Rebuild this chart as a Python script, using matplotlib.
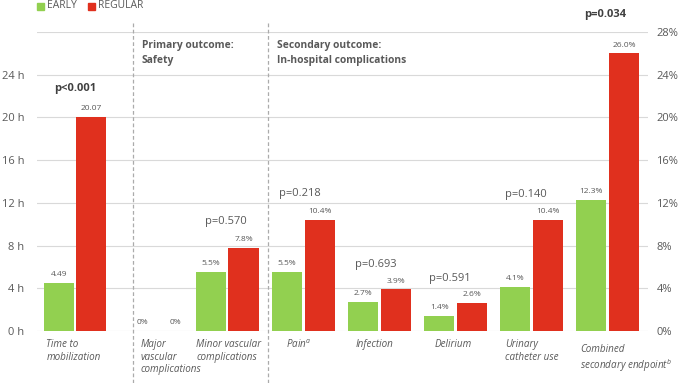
import matplotlib
matplotlib.use("Agg")
import matplotlib.pyplot as plt
import matplotlib.transforms as mtransforms
import numpy as np

plt.rcParams['font.family'] = ['Open Sans', 'DejaVu Sans']

categories = ["Time to\nmobilization", "Major\nvascular\ncomplications",
              "Minor vascular\ncomplications", "Pain$^{\\mathregular{a}}$", "Infection",
              "Delirium", "Urinary\ncatheter use", "Combined\nsecondary endpoint$^{\\mathregular{b}}$"]
early = [4.49, 0.0, 5.5, 5.5, 2.7, 1.4, 4.1, 12.3]
regular = [20.07, 0.0, 7.8, 10.4, 3.9, 2.6, 10.4, 26.0]
early_labels = ["4.49", "0%", "5.5%", "5.5%", "2.7%", "1.4%", "4.1%", "12.3%"]
regular_labels = ["20.07", "0%", "7.8%", "10.4%", "3.9%", "2.6%", "10.4%", "26.0%"]
pvalues = ["p<0.001", "", "p=0.570", "p=0.218", "p=0.693", "p=0.591", "p=0.140", "p=0.034"]
p_bold = [True, False, False, False, False, False, False, True]
left_ticks = [0, 4, 8, 12, 16, 20, 24]
left_tick_labels = ["0 h", "4 h", "8 h", "12 h", "16 h", "20 h", "24 h"]
right_ticks = [0, 4, 8, 12, 16, 20, 24, 28]
right_tick_labels = ["0%", "4%", "8%", "12%", "16%", "20%", "24%", "28%"]

GREEN = "#92D050"
RED = "#E0301E"
GRAY = "#595959"

fig = plt.figure(figsize=(6.85, 3.83), dpi=100)
ax = fig.add_axes([37/685, 1-331/383, (648-37)/685, (331-32)/383])
x = np.arange(len(categories))
w = 0.395
off = 0.214
ax.bar(x - off, early, w, color=GREEN, zorder=3)
ax.bar(x + off, regular, w, color=RED, zorder=3)
ax.set_xlim(-0.5, 7.53)
ax.set_ylim(0, 28)
ax.set_yticks(left_ticks)
ax.set_yticklabels(left_tick_labels, color=GRAY, fontsize=8)
for t in right_ticks:
    ax.axhline(t, color="#D9D9D9", lw=0.8, zorder=1)
for s in ax.spines.values():
    s.set_visible(False)
ax.tick_params(axis='y', length=0, pad=9)
ax.set_xticks([])

ax2 = ax.twinx()
ax2.set_ylim(0, 28)
ax2.set_yticks(right_ticks)
ax2.set_yticklabels(right_tick_labels, color=GRAY, fontsize=8)
ax2.tick_params(axis='y', length=0, pad=6)
for s in ax2.spines.values():
    s.set_visible(False)

# value labels (labels of zero-height bars sit slightly right, as in the source)
for i in range(len(categories)):
    zdx = 0.1 if early[i] == 0 else 0.0
    ax.text(x[i] - off + zdx, early[i] + 0.45, early_labels[i], ha='center', va='bottom',
            fontsize=6, color=GRAY)
    zdx = 0.1 if regular[i] == 0 else 0.0
    ax.text(x[i] + off + zdx, regular[i] + 0.45, regular_labels[i], ha='center', va='bottom',
            fontsize=6, color=GRAY)

# p-values
p_dx = [0.0, 0, -0.02, -0.04, -0.05, -0.07, -0.07, -0.04]
p_dy = [2.6, 0, 2.5, 2.5, 2.3, 2.3, 2.4, 3.6]
for i, p in enumerate(pvalues):
    if not p:
        continue
    top = max(early[i], regular[i])
    ax.text(x[i] + p_dx[i], top + p_dy[i], p, ha='center', va='center',
            fontsize=8, color=GRAY if not p_bold[i] else "#404040",
            fontweight='bold' if p_bold[i] else 'normal', clip_on=False)

# category labels
lab_dx = [-0.02, 0.26, 0.02, -0.06, -0.07, -0.03, 0.0, 0.24]
lab_y = [-0.75, -0.75, -0.75, -0.75, -0.75, -0.75, -0.75, -1.2]
for i, c in enumerate(categories):
    ax.text(x[i] + lab_dx[i], lab_y[i], c, ha='center', va='top', fontsize=7.1,
            style='italic', color=GRAY, multialignment='left', linespacing=1.2,
            clip_on=False)

# dashed separators (x in data, y in figure coords)
trans = mtransforms.blended_transform_factory(ax.transData, fig.transFigure)
for sx in [0.756, 2.53]:
    fig.add_artist(plt.Line2D([sx, sx], [0, 1-22/383], color="#ABABAB",
                              lw=0.9, ls=(0, (3, 2)), transform=trans))

# section headers
fig.text(142/685, 1-40/383, "Primary outcome:\nSafety", ha='left', va='top',
         fontsize=7.4, fontweight='bold', color=GRAY, linespacing=1.45)
fig.text(277/685, 1-40/383, "Secondary outcome:\nIn-hospital complications", ha='left',
         va='top', fontsize=7.4, fontweight='bold', color=GRAY, linespacing=1.45)

# legend
fig.patches.append(plt.Rectangle((37/685, 1-9.5/383), 7/685, 7/383, color=GREEN,
                                 transform=fig.transFigure))
fig.text(47/685, 1-6/383, "EARLY", ha='left', va='center', fontsize=7.5, color=GRAY)
fig.patches.append(plt.Rectangle((88/685, 1-9.5/383), 7/685, 7/383, color=RED,
                                 transform=fig.transFigure))
fig.text(98/685, 1-6/383, "REGULAR", ha='left', va='center', fontsize=7.5, color=GRAY)

fig.savefig("out.png", dpi=100)
